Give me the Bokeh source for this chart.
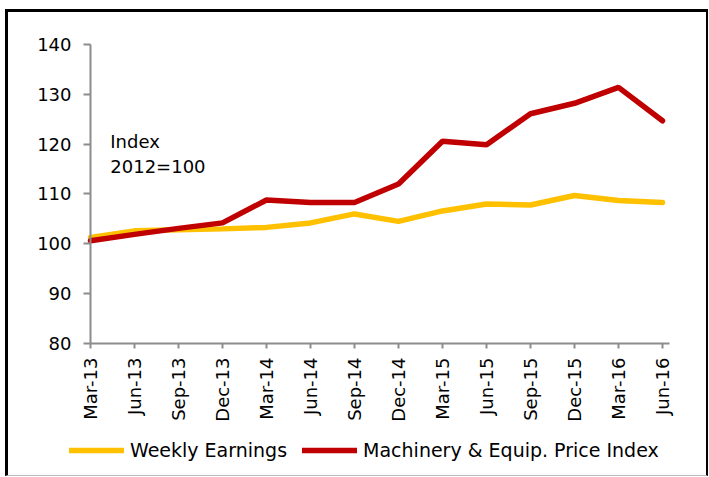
from bokeh.plotting import figure
from bokeh.models import Range1d, FixedTicker, Legend, LegendItem, Label
from bokeh.layouts import column
from bokeh.embed import file_html
from bokeh.resources import INLINE
import math

quarters = ["Mar-13", "Jun-13", "Sep-13", "Dec-13", "Mar-14", "Jun-14", "Sep-14",
            "Dec-14", "Mar-15", "Jun-15", "Sep-15", "Dec-15", "Mar-16", "Jun-16"]
weekly_earnings = [101.3, 102.6, 102.8, 103.0, 103.3, 104.2, 106.0,
                   104.5, 106.6, 108.0, 107.8, 109.7, 108.7, 108.3]
machinery_index = [100.6, 101.9, 103.1, 104.2, 108.8, 108.3, 108.3,
                   112.0, 120.6, 119.9, 126.1, 128.2, 131.4, 124.7]
y_ticks = [80, 90, 100, 110, 120, 130, 140]

FONT = "DejaVu Sans"
xs = list(range(len(quarters)))

# frame covers the whole card; axes are pinned inside it
p = figure(frame_width=698, frame_height=463, output_backend="svg", toolbar_location=None,
           x_range=Range1d(-1.8636, 14.0), y_range=Range1d(53.51, 146.42),
           min_border_left=0, min_border_top=0, min_border_right=0,
           min_border_bottom=0)
p.outline_line_color = None
p.xgrid.visible = False
p.ygrid.visible = False
p.background_fill_color = "white"
p.border_fill_color = "white"

r1 = p.line(xs, weekly_earnings, line_color="#FFC000", line_width=5.5, line_cap="round")
r2 = p.line(xs, machinery_index, line_color="#C00000", line_width=5.5, line_cap="round")

for ax in (p.xaxis[0], p.yaxis[0]):
    ax.axis_line_color = "#8c8c8c"
    ax.axis_line_width = 2
    ax.major_tick_line_color = "#8c8c8c"
    ax.major_tick_line_width = 2
    ax.major_tick_in = 0
    ax.minor_tick_line_color = None
    ax.major_label_text_font = FONT
    ax.major_label_text_font_size = "18px"
    ax.major_label_text_color = "black"

p.yaxis.ticker = FixedTicker(ticks=y_ticks)
p.yaxis.major_tick_out = 7
p.yaxis.major_label_standoff = 12
p.yaxis.fixed_location = 0
p.yaxis.bounds = (80, 140)

p.xaxis.ticker = FixedTicker(ticks=xs)
p.xaxis.major_label_overrides = {i: q for i, q in enumerate(quarters)}
p.xaxis.major_label_orientation = math.pi / 2
p.xaxis.major_tick_out = 5
p.xaxis.major_label_standoff = 9
p.xaxis.fixed_location = 80
p.xaxis.bounds = (0, 13.16)

p.add_layout(Label(x=0.45, y=118.5, text="Index", text_font=FONT,
                   text_font_size="18px", text_color="black"))
p.add_layout(Label(x=0.45, y=113.5, text="2012=100", text_font=FONT,
                   text_font_size="18px", text_color="black"))

legend = Legend(items=[LegendItem(label="Weekly Earnings", renderers=[r1]),
                       LegendItem(label="Machinery & Equip. Price Index", renderers=[r2])],
                orientation="horizontal", location=(61, 14),
                label_text_font=FONT, label_text_font_size="19px",
                label_text_color="black",
                glyph_width=55, glyph_height=18, spacing=15, label_standoff=6,
                border_line_color=None, background_fill_alpha=0,
                padding=4, margin=0)
p.add_layout(legend, "center")

page = column(p, styles={"margin-left": "5px", "margin-top": "9px",
                         "border-left": "3px solid black", "border-top": "3px solid black",
                         "border-right": "2px solid black",
                         "border-bottom": "1px solid #bbbbbb"})

open("out.html", "w").write(file_html(page, INLINE))
